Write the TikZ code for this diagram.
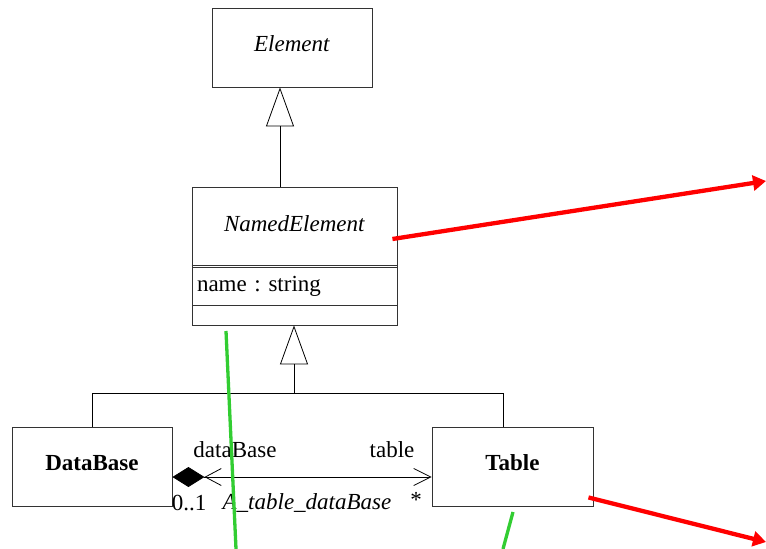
\documentclass[tikz,border=0pt]{standalone}
\usepackage{fontspec}
\setmainfont{Liberation Serif}
\usetikzlibrary{arrows.meta}
\definecolor{markgreen}{RGB}{50,205,50}
\frenchspacing
\begin{document}
\begin{tikzpicture}[x=1pt,y=-1pt,
  every node/.style={font=\fontsize{23}{27}\selectfont, inner sep=0pt},
  umlbox/.style={draw=black!80, line width=0.9pt, minimum width=#1},
  edge/.style={draw=black, line width=0.8pt},
  inh/.style={edge, -{Triangle[open, length=39pt, width=28pt]}},
  redarrow/.style={draw=red, line width=4.3pt, -{Triangle[length=13pt, width=15pt]}},
  greenmark/.style={draw=markgreen, line width=3.3pt},
  lbl/.style={anchor=center}]
\useasboundingbox (0,0) rectangle (766,549);

% classes
\node[umlbox=160pt, minimum height=79pt] (element) at (292,47.5) {};
\node (elementtitle) at (292,44) {\textit{Element}};
\node[umlbox=205pt, minimum height=138pt] (named) at (294.5,256) {};
\node (namedtitle) at (294.5,224) {\textit{NamedElement}};
\node[umlbox=205pt, minimum height=38pt, align=left, text width=195pt] (attr) at (294.5,286) {name : string};
\draw[black!80, line width=0.9pt] (named.west |- 0,265) -- (named.east |- 0,265);
\node[umlbox=160pt, minimum height=79pt] (database) at (92,466.5) {};
\node (dbtitle) at (92,463) {\textbf{DataBase}};
\node[umlbox=161pt, minimum height=79pt] (table) at (512.5,466.5) {};
\node (tabletitle) at (512.5,463) {\textbf{Table}};

% generalizations
\coordinate (gx) at (280,0);
\coordinate (tx) at (503,0);
\coordinate (join) at (294,393);
\draw[inh] (named.north -| gx) -- (element.south -| gx);
\draw[edge] (database.north) |- (join);
\draw[edge] (table.north -| tx) |- (join);
\draw[inh] (join) -- (named.south -| join);

% association
\coordinate (ay) at (0,477);
\draw[edge, {Diamond[length=32pt, width=20pt] Straight Barb[length=16pt, width=17pt]}-{Straight Barb[length=17pt, width=17pt]}]
  (database.east |- ay) -- (table.west |- ay);
\node[lbl] (rolea) at (235,450) {dataBase};
\node[lbl] (roleb) at (392,450) {table};
\node[lbl] (multa) at (189,503) {0..1};
\node[lbl] (assocname) at (307,503) {\textit{A\_table\_dataBase}};
\node[lbl] (multb) at (416,500) {*};

% red pointers
\coordinate (r1) at (766,181);
\coordinate (r2) at (766,542);
\draw[redarrow] ([shift={(-5,-17)}]named.east) -- (r1);
\draw[redarrow] ([shift={(-5,-9)}]table.south east) -- (r2);

% green strokes
\coordinate (g1a) at (226,331);
\coordinate (g1b) at (236,549);
\coordinate (g2a) at (513,512);
\coordinate (g2b) at (503,549);
\draw[greenmark] (g1a) -- (g1b);
\draw[greenmark] (g2a) -- (g2b);
\end{tikzpicture}
\end{document}
